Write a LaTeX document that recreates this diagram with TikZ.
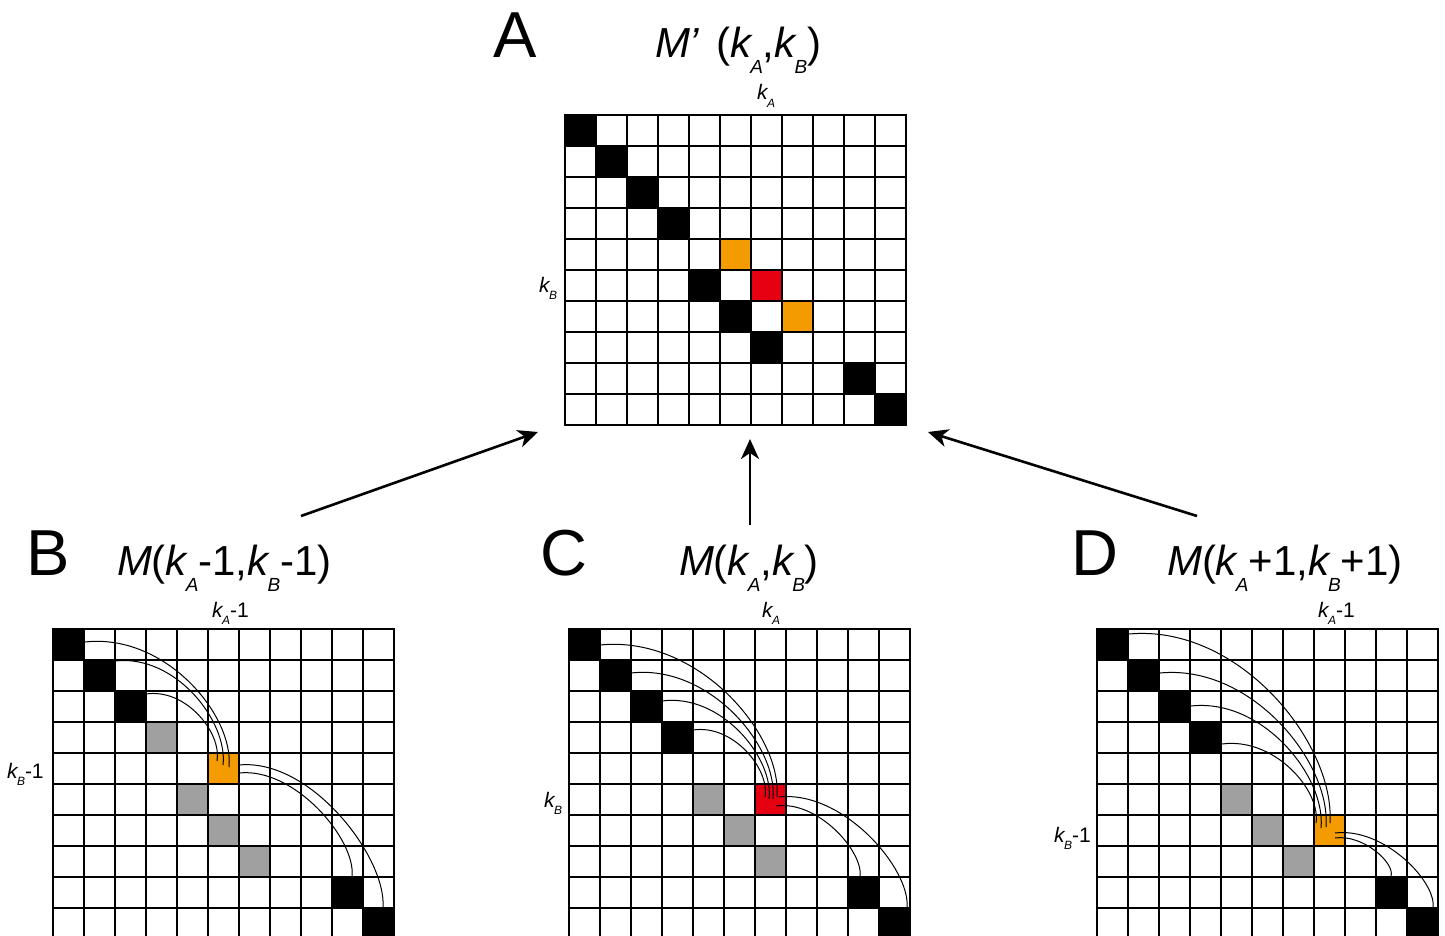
\documentclass[tikz,border=0pt]{standalone}
\usepackage{fontspec}
\setmainfont{Liberation Sans}
\usetikzlibrary{arrows.meta}
\definecolor{morange}{RGB}{243,155,0}
\definecolor{mred}{RGB}{230,0,18}
\definecolor{mgray}{RGB}{160,160,160}
\newcommand\tsub[1]{\kern-1pt\raisebox{-16pt}{\fontsize{19}{19}\selectfont\itshape #1}}
\newcommand\lsub[1]{\kern-0.5pt\raisebox{-7.5pt}{\fontsize{12}{12}\selectfont\itshape #1}}
\newcommand\ttlfont{\fontsize{42}{50}\selectfont}
\newcommand\lblfont{\fontsize{21}{25}\selectfont}
\newcommand\panelfont{\fontsize{65}{78}\selectfont}
\newcommand\mcell[3]{\fill[#3] ({31*#1},{31*#2}) rectangle ++(31,31);}
\newcommand\mgrid{%
  \foreach \i in {0,...,11}{\draw[gridline] ({31*\i},0) -- ({31*\i},310);}%
  \foreach \j in {0,...,10}{\draw[gridline] (0,{31*\j}) -- (341,{31*\j});}}
\tikzset{
  gridline/.style={line width=1.4pt, line cap=rect},
  arcline/.style={line width=1pt},
  bigarrow/.style={line width=2.6pt, -{Stealth[length=20pt,width=18pt,inset=6pt]}},
  txt/.style={anchor=base west, inner sep=0pt, outer sep=0pt},
}
\begin{document}
\begin{tikzpicture}[x=1pt,y=-1pt]
\path[use as bounding box, clip] (0,0) rectangle (1445,936);
\fill[white] (0,0) rectangle (1445,936);

% ---------------- Panel A ----------------
\begin{scope}[shift={(565,115)}]
  \mcell{0}{0}{black}\mcell{1}{1}{black}\mcell{2}{2}{black}\mcell{3}{3}{black}
  \mcell{5}{4}{morange}\mcell{4}{5}{black}\mcell{6}{5}{mred}
  \mcell{5}{6}{black}\mcell{7}{6}{morange}\mcell{6}{7}{black}
  \mcell{9}{8}{black}\mcell{10}{9}{black}
  \mgrid
\end{scope}
\node[txt] (labA) at (493,58) {\panelfont A};
\node[txt] (ttlA) at (655,58) {\ttlfont\itshape M’\hspace{17pt}\upshape(\itshape k\tsub{A}\upshape,\itshape k\tsub{B}\upshape)};
\node[txt] (kaA) at (757,100) {\lblfont\itshape k\lsub{A}};
\node[txt] (kbA) at (539,292) {\lblfont\itshape k\lsub{B}};

% ---------------- Panel B ----------------
\begin{scope}[shift={(53,629)}]
  \mcell{0}{0}{black}\mcell{1}{1}{black}\mcell{2}{2}{black}
  \mcell{3}{3}{mgray}\mcell{5}{4}{morange}\mcell{4}{5}{mgray}
  \mcell{5}{6}{mgray}\mcell{6}{7}{mgray}
  \mcell{9}{8}{black}\mcell{10}{9}{black}
  \mgrid
\end{scope}
\node[txt] (labB) at (26,575) {\panelfont B};
\node[txt] (ttlB) at (117,575) {\ttlfont\itshape M\upshape(\itshape k\tsub{A}\upshape-1,\itshape k\tsub{B}\upshape-1)};
\node[txt] (kaB) at (212,617) {\lblfont\itshape k\lsub{A}\upshape-1};
\node[txt] (kbB) at (7,778) {\lblfont\itshape k\lsub{B}\upshape-1};

% ---------------- Panel C ----------------
\begin{scope}[shift={(569,629)}]
  \mcell{0}{0}{black}\mcell{1}{1}{black}\mcell{2}{2}{black}\mcell{3}{3}{black}
  \mcell{4}{5}{mgray}\mcell{6}{5}{mred}
  \mcell{5}{6}{mgray}\mcell{6}{7}{mgray}
  \mcell{9}{8}{black}\mcell{10}{9}{black}
  \mgrid
\end{scope}
\node[txt] (labC) at (540,575) {\panelfont C};
\node[txt] (ttlC) at (679,575) {\ttlfont\itshape M\upshape(\itshape k\tsub{A}\upshape,\itshape k\tsub{B}\upshape)};
\node[txt] (kaC) at (762,617) {\lblfont\itshape k\lsub{A}};
\node[txt] (kbC) at (544,807) {\lblfont\itshape k\lsub{B}};

% ---------------- Panel D ----------------
\begin{scope}[shift={(1097,629)}]
  \mcell{0}{0}{black}\mcell{1}{1}{black}\mcell{2}{2}{black}\mcell{3}{3}{black}
  \mcell{4}{5}{mgray}\mcell{5}{6}{mgray}\mcell{7}{6}{morange}\mcell{6}{7}{mgray}
  \mcell{9}{8}{black}\mcell{10}{9}{black}
  \mgrid
\end{scope}
\node[txt] (labD) at (1071,575) {\panelfont D};
\node[txt] (ttlD) at (1167,575) {\ttlfont\itshape M\upshape(\itshape k\tsub{A}\upshape+1,\itshape k\tsub{B}\upshape+1)};
\node[txt] (kaD) at (1318,617) {\lblfont\itshape k\lsub{A}\upshape-1};
\node[txt] (kbD) at (1054,842) {\lblfont\itshape k\lsub{B}\upshape-1};

% ---------------- arrows ----------------
\coordinate (aLs) at (301,516); \coordinate (aLe) at (538,432);
\coordinate (aMs) at (750,525); \coordinate (aMe) at (750,439);
\coordinate (aRs) at (1197,516); \coordinate (aRe) at (928,432);
\draw[bigarrow] (aLs) -- (aLe);
\draw[bigarrow] (aMs) -- (aMe);
\draw[bigarrow] (aRs) -- (aRe);

% ---------------- arcs B ----------------
\coordinate (b1s) at (85,642);  \coordinate (b1e) at (229,767);
\coordinate (b2s) at (115,661); \coordinate (b2e) at (223,765);
\coordinate (b3s) at (146,694); \coordinate (b3e) at (217,761);
\coordinate (b4s) at (239,765); \coordinate (b4e) at (383,908);
\coordinate (b5s) at (239,773); \coordinate (b5e) at (352,876);
\draw[arcline] (b1s) .. controls +(80,-9) and +(5,-52) .. (b1e);
\draw[arcline] (b2s) .. controls +(60,-7) and +(5,-44) .. (b2e);
\draw[arcline] (b3s) .. controls +(40,-6) and +(5,-28) .. (b3e);
\draw[arcline] (b4s) .. controls +(72,-7) and +(4,-50) .. (b4e);
\draw[arcline] (b5s) .. controls +(56,-6) and +(4,-36) .. (b5e);

% ---------------- arcs C ----------------
\coordinate (c1s) at (600,645); \coordinate (c1e) at (777,797);
\coordinate (c2s) at (631,673); \coordinate (c2e) at (773,799);
\coordinate (c3s) at (662,701); \coordinate (c3e) at (769,799);
\coordinate (c4s) at (693,730); \coordinate (c4e) at (765,797);
\coordinate (c5s) at (779,797); \coordinate (c5e) at (907,908);
\coordinate (c6s) at (776,806); \coordinate (c6e) at (860,877);
\draw[arcline] (c1s) .. controls +(98,-10) and +(5,-63) .. (c1e);
\draw[arcline] (c2s) .. controls +(78,-9) and +(5,-53) .. (c2e);
\draw[arcline] (c3s) .. controls +(59,-8) and +(5,-41) .. (c3e);
\draw[arcline] (c4s) .. controls +(40,-6) and +(5,-28) .. (c4e);
\draw[arcline] (c5s) .. controls +(64,-7) and +(4,-39) .. (c5e);
\draw[arcline] (c6s) .. controls +(42,-6) and +(4,-25) .. (c6e);

% ---------------- arcs D ----------------
\coordinate (d1s) at (1129,634); \coordinate (d1e) at (1330,823);
\coordinate (d2s) at (1160,673); \coordinate (d2e) at (1326,827);
\coordinate (d3s) at (1191,706); \coordinate (d3e) at (1321,828);
\coordinate (d4s) at (1222,744); \coordinate (d4e) at (1316,823);
\coordinate (d5s) at (1335,833); \coordinate (d5e) at (1433,908);
\coordinate (d6s) at (1335,838); \coordinate (d6e) at (1391,876);
\draw[arcline] (d1s) .. controls +(110,-10) and +(5,-80) .. (d1e);
\draw[arcline] (d2s) .. controls +(91,-9) and +(5,-65) .. (d2e);
\draw[arcline] (d3s) .. controls +(72,-8) and +(5,-51) .. (d3e);
\draw[arcline] (d4s) .. controls +(52,-7) and +(5,-33) .. (d4e);
\draw[arcline] (d5s) .. controls +(49,-6) and +(4,-26) .. (d5e);
\draw[arcline] (d6s) .. controls +(28,-4) and +(4,-13) .. (d6e);
\end{tikzpicture}
\end{document}
